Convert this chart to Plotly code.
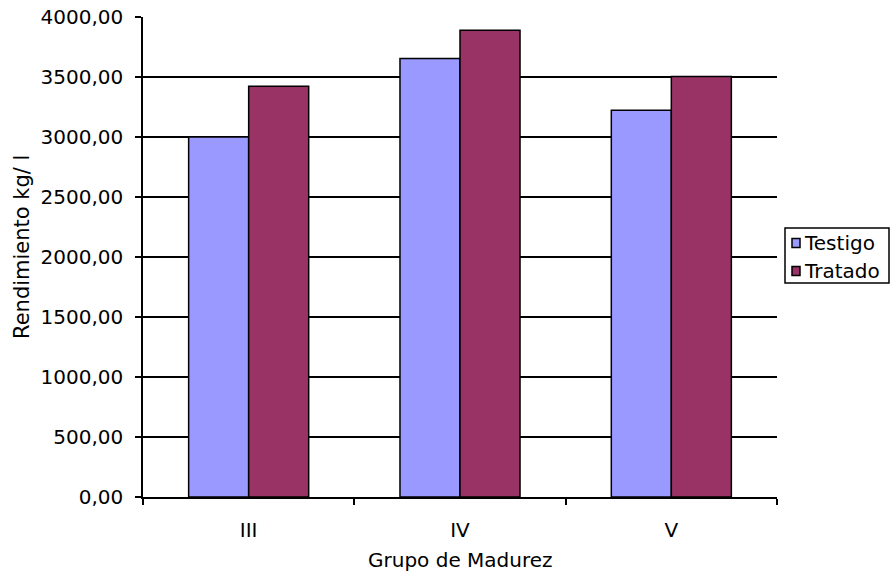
import plotly.graph_objects as go

grupos = ["III", "IV", "V"]
testigo = [3000, 3655, 3222]
tratado = [3422, 3889, 3505]
y_ticks = [0, 500, 1000, 1500, 2000, 2500, 3000, 3500, 4000]
grid_vals = [500, 1000, 1500, 2000, 2500, 3000, 3500]
colores = ["#9999FF", "#993366"]
nombres = ["Testigo", "Tratado"]

font = dict(family="DejaVu Sans, Verdana, sans-serif", size=20, color="#000000")

fig = go.Figure()
for nombre, valores, color in zip(nombres, [testigo, tratado], colores):
    fig.add_trace(go.Bar(x=grupos, y=valores, name=nombre, showlegend=False,
                         marker=dict(color=color, line=dict(color="#000000", width=1.5))))

fig.update_layout(
    width=893, height=573,
    margin=dict(l=143, r=116, t=17, b=76, autoexpand=False),
    paper_bgcolor="white", plot_bgcolor="white",
    font=font,
    separators=",.",
    barmode="group", bargap=0.432, bargroupgap=0,
)
fig.update_xaxes(
    showline=True, linecolor="#000000", linewidth=1.5,
    ticks="outside", tickson="boundaries", ticklen=6, tickcolor="#000000", tickwidth=1.5,
    ticklabelstandoff=14, showgrid=False,
    automargin=False,
)
fig.update_yaxes(
    range=[0, 4000], tickvals=y_ticks, tickformat=".2f",
    showline=True, linecolor="#000000", linewidth=1.5,
    showgrid=False, zeroline=False,
    minor=dict(tickvals=grid_vals, showgrid=True, gridcolor="#000000", gridwidth=1.5, ticks=""),
    ticks="outside", ticklen=6, tickcolor="#000000", tickwidth=1.5,
    ticklabelstandoff=8, ticklabeloverflow="allow",
    automargin=False,
)

# axis titles
fig.add_annotation(text="Grupo de Madurez", xref="paper", yref="paper", x=0.5, y=0,
                   xanchor="center", yanchor="middle", yshift=-63, showarrow=False)
fig.add_annotation(text="Rendimiento kg/ l", xref="paper", yref="paper", x=0, y=0.5,
                   xanchor="center", yanchor="middle", xshift=-121, yshift=10,
                   textangle=-90, showarrow=False, font=dict(size=21))

# legend box, Excel style
def px_x(p):
    return (p - 143) / 634

def px_y(p):
    return (497 - p) / 480

fig.add_shape(type="rect", xref="paper", yref="paper",
              x0=px_x(785), x1=px_x(889), y0=px_y(283), y1=px_y(228),
              line=dict(color="#000000", width=1.5), fillcolor="white")
for i, (nombre, color) in enumerate(zip(nombres, colores)):
    cy = 243 + i * 28
    fig.add_shape(type="rect", xref="paper", yref="paper",
                  x0=px_x(792), x1=px_x(800), y0=px_y(cy + 4.5), y1=px_y(cy - 4.5),
                  line=dict(color="#000000", width=1.5), fillcolor=color)
    fig.add_annotation(text=nombre, xref="paper", yref="paper", x=px_x(802), y=px_y(cy),
                       xanchor="left", yanchor="middle", showarrow=False)

# drop the default 8px page margin so the figure fills the window
fig.write_html("out.html", config={"displayModeBar": False},
               post_script="document.body.style.margin='0';")
